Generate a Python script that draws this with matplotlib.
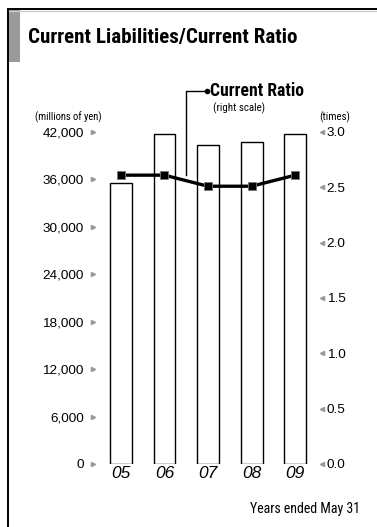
import matplotlib
matplotlib.use("Agg")
import matplotlib.pyplot as plt
from matplotlib.patches import Rectangle
from matplotlib.lines import Line2D

years = ["05", "06", "07", "08", "09"]
liabilities = [35500, 41700, 40400, 40700, 41800]
current_ratio = [2.61, 2.61, 2.51, 2.51, 2.61]
left_ticks = [0, 6000, 12000, 18000, 24000, 30000, 36000, 42000]
left_labels = ["0", "6,000", "12,000", "18,000", "24,000", "30,000", "36,000", "42,000"]
right_ticks = [0.0, 0.5, 1.0, 1.5, 2.0, 2.5, 3.0]
right_labels = ["0.0", "0.5", "1.0", "1.5", "2.0", "2.5", "3.0"]

COND = "Roboto Condensed"
REG = "Liberation Sans"

W, H = 377, 527
fig = plt.figure(figsize=(W / 100, H / 100), dpi=100)
renderer = fig.canvas.get_renderer()


def fx(px):
    return px / W


def fy(py):
    return 1 - py / H


def fit(t, target):
    w = t.get_window_extent(renderer).width
    t.set_fontsize(t.get_fontsize() * target / w)
    return t


# frame
fig.add_artist(Line2D([fx(8), 1], [fy(9), fy(9)], color="black", lw=1.4))
fig.add_artist(Line2D([fx(8), 1], [fy(11), fy(11)], color="#cccccc", lw=1.0))
fig.add_artist(Line2D([fx(8), fx(8)], [fy(9), 0], color="black", lw=1.4))
fig.add_artist(Rectangle((fx(8), fy(62)), fx(12), fy(9) - fy(62), color="#9a9a9a", lw=0))

fit(fig.text(fx(28), fy(37), "Current Liabilities/Current Ratio", family=COND,
             weight="bold", fontsize=13, va="center", ha="left"), 269)

ax_l, ax_r = 99, 317
ax_t, ax_b = 132, 464
ax = fig.add_axes([fx(ax_l), fy(ax_b), fx(ax_r - ax_l), fy(ax_t) - fy(ax_b)])
ax.set_xlim(-0.5, 4.5)
ax.set_ylim(0, 42000)
x = list(range(len(years)))
ax.bar(x, liabilities, width=0.5, color="white", edgecolor="black", lw=1.0, zorder=2)
for s in ax.spines.values():
    s.set_visible(False)
ax.set_yticks(left_ticks)
ax.set_yticklabels(left_labels, family=REG, fontsize=9.7)
ax.tick_params(axis="y", length=0, pad=11)
ax.set_xticks(x)
ax.set_xticklabels(years, family=REG, style="italic", fontsize=12.5)
ax.tick_params(axis="x", length=0, pad=1.5)
ax.plot([-0.0275] * len(left_ticks), left_ticks, ls="none", marker=">", ms=3,
        color="#999999", transform=ax.get_yaxis_transform(), clip_on=False)

ax2 = ax.twinx()
ax2.set_ylim(0, 3.0)
for s in ax2.spines.values():
    s.set_visible(False)
ax2.set_yticks(right_ticks)
ax2.set_yticklabels(right_labels, family=REG, fontsize=9.7)
ax2.tick_params(axis="y", length=0, pad=7)
ax2.plot(x, current_ratio, color="black", lw=2.4, marker="s", ms=6,
         markeredgecolor="#777777", markeredgewidth=0.6, zorder=3)
ax2.plot([1.023] * len(right_ticks), right_ticks, ls="none", marker="<", ms=3,
         color="#999999", transform=ax2.get_yaxis_transform(), clip_on=False)

# callout
fig.add_artist(Line2D([fx(186), fx(186), fx(207)], [fy(175), fy(91), fy(91)],
                      color="black", lw=1.0))
fig.add_artist(Line2D([fx(207)], [fy(91)], marker="o", ms=3, color="black", ls="none"))
fit(fig.text(fx(210), fy(91), "Current Ratio", family=COND, weight="bold",
             fontsize=11, va="center", ha="left"), 93)
fit(fig.text(fx(213), fy(108), "(right scale)", family=COND, fontsize=8,
             va="center", ha="left"), 52)
fit(fig.text(fx(68.5), fy(117), "(millions of yen)", family=COND, fontsize=8,
             va="center", ha="center"), 67)
fit(fig.text(fx(334.5), fy(117), "(times)", family=COND, fontsize=8,
             va="center", ha="center"), 31)
fit(fig.text(fx(360), fy(509), "Years ended May 31", family=COND, fontsize=9,
             va="center", ha="right"), 111)

fig.savefig("out.png", dpi=100)
